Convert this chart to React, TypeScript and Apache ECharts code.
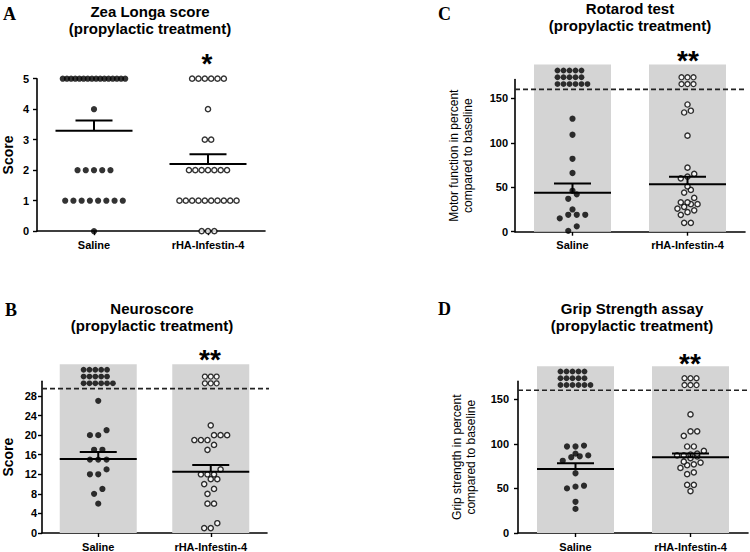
import React, { useEffect, useRef } from "react";
import * as echarts from "echarts";

const CATEGORIES = ["Saline", "rHA-Infestin-4"];

// Panel A – Zea Longa score, all animals
const A_SALINE = [5, 5, 5, 5, 5, 5, 5, 5, 5, 5, 5, 5, 5, 5, 5, 5, 4, 2, 2, 2, 2, 2, 1, 1, 1, 1, 1, 1, 1, 1, 0];
const A_RHA = [5, 5, 5, 5, 5, 5, 4, 3, 3, 2, 2, 2, 2, 2, 2, 2, 1, 1, 1, 1, 1, 1, 1, 1, 1, 1, 0, 0, 0];

// Panel B – Neuroscore, surviving animals
const B_SALINE = [27, 21, 20, 20, 17, 17, 15, 15, 15, 13, 12, 12, 9, 8, 6];
const B_RHA = [22, 20, 20, 20, 19, 19, 19, 18, 17, 13, 12, 12, 12, 11, 11, 10, 9, 8, 6, 6, 2, 1, 1];

// Panel C – Rotarod, surviving animals
const C_SALINE = [127, 109, 82, 66, 46, 42, 37, 25, 19, 19, 19, 15, 6, 1];
const C_RHA = [143, 136, 134, 108, 72, 65, 62, 60, 51, 47, 44, 38, 33, 33, 31, 31, 28, 26, 24, 22, 19, 10, 10];

// Panel D – Grip strength, surviving animals
const D_SALINE = [98, 97, 97, 89, 87, 86, 85, 81, 67, 53, 52, 50, 35, 27];
const D_RHA = [133, 114, 114, 109, 97, 97, 92, 89, 88, 87, 87, 86, 84, 80, 79, 77, 76, 73, 68, 66, 54, 54, 47];

// Dead animals shown above the dashed line (dots per row, bottom row first)
const SALINE_DEAD_ROWS = [6, 5, 5];
const RHA_DEAD_ROWS = [3, 3];

const B_TICKS = [0, 4, 8, 12, 16, 20, 24, 28];
const A_TICKS = [0, 1, 2, 3, 4, 5];
const PCT_TICKS = [0, 50, 100, 150];

const FONT = "'Liberation Sans', Arial, sans-serif";

type Panel = {
  letter: string;
  title: string;
  saline: number[];
  rha: number[];
  max: number;
  ticks: number[];
  threshold?: number;
  barTop?: number;
  yName: string;
  yNameGap: number;
  yNameSize: number;
  yNameBold: boolean;
  labelMargin: number;
  grid: { left: number; top: number; width: number; height: number };
  stars: string;
  letterPos: [number, number];
  titlePos: [number, number];
  starPos: [number, number];
  spacing: [number, number];
};

const PANELS: Panel[] = [
  {
    letter: "A", title: "Zea Longa score", saline: A_SALINE, rha: A_RHA, max: 5, ticks: A_TICKS,
    yName: "Score", yNameGap: 22, yNameSize: 14, yNameBold: true, labelMargin: 8,
    grid: { left: 35, top: 78.7, width: 230, height: 152.5 }, stars: "*",
    letterPos: [3, 15], titlePos: [150, 11], starPos: [207, 57], spacing: [8.3, 6.4],
  },
  {
    letter: "B", title: "Neuroscore", saline: B_SALINE, rha: B_RHA, max: 31, ticks: B_TICKS,
    threshold: 29.5, barTop: 34.5,
    yName: "Score", yNameGap: 27, yNameSize: 14, yNameBold: true, labelMargin: 5,
    grid: { left: 37, top: 381.3, width: 230, height: 152 }, stars: "**",
    letterPos: [5, 311], titlePos: [152, 308], starPos: [210, 353], spacing: [8.5, 6.7],
  },
  {
    letter: "C", title: "Rotarod test", saline: C_SALINE, rha: C_RHA, max: 171, ticks: PCT_TICKS,
    threshold: 160, barTop: 188,
    yName: "Motor function in percent\ncompared to baseline", yNameGap: 40, yNameSize: 12, yNameBold: false, labelMargin: 7,
    grid: { left: 515, top: 79.6, width: 230, height: 152.1 }, stars: "**",
    letterPos: [438, 15], titlePos: [630, 8], starPos: [688, 54], spacing: [8.5, 6.7],
  },
  {
    letter: "D", title: "Grip Strength assay", saline: D_SALINE, rha: D_RHA, max: 170, ticks: PCT_TICKS,
    threshold: 160, barTop: 187,
    yName: "Grip strength in percent\ncompared to baseline", yNameGap: 40, yNameSize: 12, yNameBold: false, labelMargin: 9,
    grid: { left: 518, top: 381.4, width: 230, height: 151.9 }, stars: "**",
    letterPos: [438, 309.5], titlePos: [632, 308], starPos: [690, 357], spacing: [8.5, 6.7],
  },
];

function rowLayout(values: number[], pxPerUnit: number, spacing: number, tolPx: number, maxSpan: number) {
  const sorted = [...values].sort((a, b) => a - b);
  const rows: number[][] = [];
  let cur: number[] = [];
  for (const v of sorted) {
    if (cur.length && (v - cur[0]) * pxPerUnit > tolPx) {
      rows.push(cur);
      cur = [];
    }
    cur.push(v);
  }
  if (cur.length) rows.push(cur);
  const out: { dx: number; v: number }[] = [];
  for (const r of rows) {
    const n = r.length;
    const s = n > 1 ? Math.min(spacing, maxSpan / (n - 1)) : 0;
    r.forEach((v, i) => out.push({ dx: (i - (n - 1) / 2) * s, v }));
  }
  return out;
}

function meanSem(vals: number[]) {
  const n = vals.length;
  const m = vals.reduce((a, b) => a + b, 0) / n;
  const sd = Math.sqrt(vals.reduce((a, b) => a + (b - m) * (b - m), 0) / (n - 1));
  return [m, sd / Math.sqrt(n)];
}

function buildOption() {
  const grid: any[] = [];
  const xAxis: any[] = [];
  const yAxis: any[] = [];
  const series: any[] = [];
  const graphic: any[] = [];

  PANELS.forEach((p, i) => {
    grid.push({ ...p.grid, containLabel: false });
    const pxX = p.grid.width / 2;
    const pxY = p.grid.height / p.max;
    xAxis.push({
      gridIndex: i, type: "value", min: 0.5, max: 2.5,
      axisLine: { show: true, onZero: false, lineStyle: { color: "#000", width: 1.6 } },
      axisTick: { show: true, customValues: [1, 2], length: 4, lineStyle: { color: "#000", width: 1.4 } },
      axisLabel: {
        customValues: [1, 2], formatter: (v: number) => CATEGORIES[Math.round(v) - 1],
        margin: 8, fontWeight: "bold", fontSize: 11, color: "#000", fontFamily: FONT,
      },
      splitLine: { show: false },
    });
    yAxis.push({
      gridIndex: i, type: "value", min: 0, max: p.max,
      axisLine: { show: true, onZero: false, lineStyle: { color: "#000", width: 1.6 } },
      axisTick: { show: true, customValues: p.ticks, length: 4, lineStyle: { color: "#000", width: 1.4 } },
      axisLabel: {
        customValues: p.ticks, margin: p.labelMargin, fontWeight: "bold", fontSize: 11, color: "#000", fontFamily: FONT,
      },
      splitLine: { show: false },
      name: p.yName, nameLocation: "middle", nameGap: p.yNameGap,
      nameTextStyle: {
        fontSize: p.yNameSize, fontWeight: p.yNameBold ? "bold" : "normal", color: "#000",
        fontFamily: FONT, lineHeight: 14,
      },
    });

    if (p.barTop !== undefined) {
      series.push({
        type: "bar", xAxisIndex: i, yAxisIndex: i, data: [[1, p.barTop], [2, p.barTop]],
        barWidth: 77, clip: false, silent: true, itemStyle: { color: "#d4d4d4" }, z: 1,
      });
    }
    if (p.threshold !== undefined) {
      series.push({
        type: "line", xAxisIndex: i, yAxisIndex: i,
        data: [[0.5, p.threshold], [2.5 + 6 / pxX, p.threshold]],
        symbol: "none", clip: false, silent: true,
        lineStyle: { color: "#222", width: 1.6, type: [5, 3] }, z: 2,
      });
    }

    const groups = [p.saline, p.rha];
    groups.forEach((vals, g) => {
      const lay = rowLayout(vals, pxY, p.spacing[g], 6, 63);
      const data = lay.map((d) => [g + 1 + d.dx / pxX, d.v]);
      series.push({
        type: "scatter", xAxisIndex: i, yAxisIndex: i, data, clip: false, silent: true,
        symbol: "circle", symbolSize: g === 0 ? 6.2 : 5.2,
        itemStyle: g === 0
          ? { color: "#000" }
          : { color: "#fff", borderColor: "#000", borderWidth: 1.4 },
        z: 3,
      });
    });

    if (p.threshold !== undefined) {
      [SALINE_DEAD_ROWS, RHA_DEAD_ROWS].forEach((rows, g) => {
        const maxCols = Math.max(...rows);
        const data: number[][] = [];
        rows.forEach((cnt, r) => {
          const yv = p.threshold! + (5.3 + 6.8 * r) / pxY;
          for (let c = 0; c < cnt; c++) {
            const dx = (c - (maxCols - 1) / 2) * 6;
            data.push([g + 1 + dx / pxX, yv]);
          }
        });
        series.push({
          type: "scatter", xAxisIndex: i, yAxisIndex: i, data, clip: false, silent: true,
          symbol: "circle", symbolSize: g === 0 ? 5.8 : 5,
          itemStyle: g === 0
            ? { color: "#000" }
            : { color: "#fff", borderColor: "#000", borderWidth: 1.3 },
          z: 3,
        });
      });
    }

    const stats = groups.map((vals, g) => [g + 1, ...meanSem(vals)]);
    series.push({
      type: "custom", xAxisIndex: i, yAxisIndex: i, data: stats, silent: true, z: 5,
      renderItem: (params: any, api: any) => {
        const x = api.value(0);
        const m = api.value(1);
        const se = api.value(2);
        const pm = api.coord([x, m]);
        const pt = api.coord([x, m + se]);
        const st = { stroke: "#000", lineWidth: 2 };
        return {
          type: "group",
          children: [
            { type: "line", shape: { x1: pm[0] - 38.5, y1: pm[1], x2: pm[0] + 38.5, y2: pm[1] }, style: st },
            { type: "line", shape: { x1: pm[0], y1: pm[1], x2: pt[0], y2: pt[1] }, style: st },
            { type: "line", shape: { x1: pt[0] - 18.5, y1: pt[1], x2: pt[0] + 18.5, y2: pt[1] }, style: st },
          ],
        };
      },
    });

    graphic.push({
      type: "text", left: p.letterPos[0], top: p.letterPos[1] - 10,
      style: { text: p.letter, font: "bold 18px 'Liberation Serif', 'Times New Roman', serif", fill: "#000" },
    });
    graphic.push({
      type: "text", x: p.titlePos[0], y: p.titlePos[1],
      style: {
        text: p.title, font: `bold 15px ${FONT}`, fill: "#000", textAlign: "center", textVerticalAlign: "middle",
      },
    });
    graphic.push({
      type: "text", x: p.titlePos[0], y: p.titlePos[1] + 17,
      style: {
        text: "(propylactic treatment)", font: `bold 15px ${FONT}`, fill: "#000",
        textAlign: "center", textVerticalAlign: "middle",
      },
    });
    graphic.push({
      type: "text", x: p.starPos[0], y: p.starPos[1] + 6,
      style: {
        text: p.stars, font: `bold 28px ${FONT}`, fill: "#000", textAlign: "center", textVerticalAlign: "middle",
      },
    });
  });

  return {
    animation: false,
    backgroundColor: "#fff",
    textStyle: { fontFamily: FONT },
    grid, xAxis, yAxis, series, graphic,
  };
}

export default function App() {
  const ref = useRef<HTMLDivElement>(null);
  useEffect(() => {
    if (!ref.current) return;
    const chart = echarts.init(ref.current, undefined, { renderer: "svg" });
    chart.setOption(buildOption() as any);
    return () => chart.dispose();
  }, []);
  return (
    <div
      ref={ref}
      style={{ position: "fixed", left: 0, top: 0, width: 750, height: 552, background: "#fff" }}
    />
  );
}
